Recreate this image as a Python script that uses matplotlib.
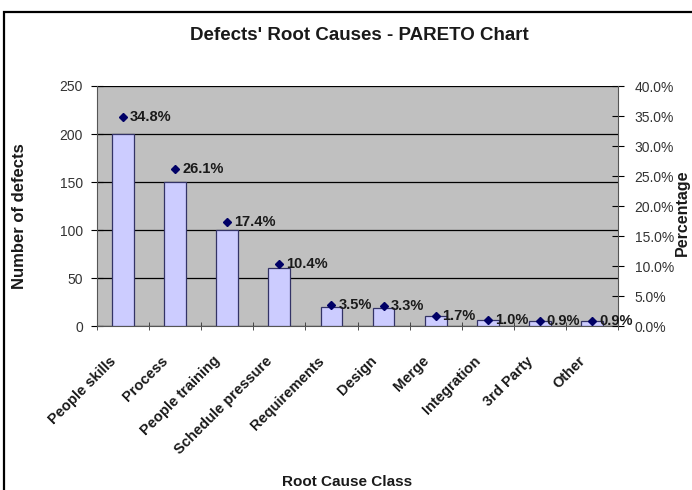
import matplotlib
matplotlib.use("Agg")
import matplotlib.pyplot as plt
import matplotlib.transforms as mtransforms
from matplotlib.patches import Rectangle
from matplotlib.ticker import FixedLocator, FuncFormatter

plt.rcParams['font.family'] = ['Liberation Sans', 'DejaVu Sans']

categories = ["People skills", "Process", "People training", "Schedule pressure",
              "Requirements", "Design", "Merge", "Integration", "3rd Party", "Other"]
defects = [200, 150, 100, 60, 20, 19, 10, 6, 5, 5]
percent = [34.8, 26.1, 17.4, 10.4, 3.5, 3.3, 1.7, 1.0, 0.9, 0.9]
pct_labels = ["34.8%", "26.1%", "17.4%", "10.4%", "3.5%", "3.3%", "1.7%", "1.0%", "0.9%", "0.9%"]

fig = plt.figure(figsize=(6.92, 4.90), dpi=100)
fig.patch.set_facecolor("white")
fig.add_artist(Rectangle((4/692, -0.01), 1.0, 1 - 12/490 + 0.01, transform=fig.transFigure,
                         fill=False, edgecolor="black", linewidth=1.6))

ax = fig.add_axes([97/692, 1 - 326/490, 521/692, 240/490])
ax.set_facecolor("#c0c0c0")
x = list(range(len(categories)))
ax.bar(x, defects, width=0.42, color="#ccccff", edgecolor="#333366", linewidth=0.9, zorder=3)
ax.set_xlim(-0.5, len(categories) - 0.5)
ax.set_ylim(0, 250)
ax.set_yticks([0, 50, 100, 150, 200, 250])
ax.yaxis.grid(True, color="black", linewidth=0.9, zorder=1)
ax.set_axisbelow(True)
ax.set_xticks(x)
ax.set_xticklabels(categories, rotation=45, ha="right", va="top", rotation_mode="anchor",
                   fontsize=10.5, fontweight="bold", color="#1a1a1a")
ax.tick_params(axis="x", which="major", length=0, pad=20)
shift = mtransforms.ScaledTranslation(-14/100, 0, fig.dpi_scale_trans)
for lbl in ax.get_xticklabels():
    lbl.set_transform(lbl.get_transform() + shift)
ax.xaxis.set_minor_locator(FixedLocator([i + 0.5 for i in range(-1, len(categories))]))
ax.tick_params(axis="x", which="minor", length=6, direction="inout", color="#333333")
ax.tick_params(axis="y", length=8, direction="inout", labelsize=10, labelcolor="#333333", pad=6)
for s in ["top", "right"]:
    ax.spines[s].set_visible(False)
ax.spines["left"].set_color("#555555")
ax.spines["bottom"].set_color("#555555")
ax.set_ylabel("Number of defects", fontsize=12, fontweight="bold", color="#1a1a1a")
ax.yaxis.set_label_coords((27 - 97) / 521, (326 - 216) / 240)
ax.set_xlabel("Root Cause Class", fontsize=11, fontweight="bold", color="#1a1a1a")
ax.xaxis.set_label_coords((347 - 97) / 521, (326 - 482) / 240)
ax.xaxis.label.set_va("center")

ax2 = ax.twinx()
ax2.set_ylim(0, 40)
ax2.set_yticks([0, 5, 10, 15, 20, 25, 30, 35, 40])
ax2.yaxis.set_major_formatter(FuncFormatter(lambda v, p: f"{v:.1f}%"))
ax2.tick_params(axis="y", length=8, direction="inout", labelsize=10, labelcolor="#333333", pad=8)
for s in ["top", "left", "bottom"]:
    ax2.spines[s].set_visible(False)
ax2.spines["right"].set_color("#555555")
ax2.plot(x, percent, linestyle="none", marker="D", markersize=4, color="#000066", zorder=5)
for xi, p, lab in zip(x, percent, pct_labels):
    ax2.annotate(lab, (xi, p), xytext=(5, 0), textcoords="offset points",
                 ha="left", va="center", fontsize=10.5, fontweight="bold", color="#1a1a1a")
ax2.set_ylabel("Percentage", fontsize=11.5, fontweight="bold", rotation=90, color="#1a1a1a")
ax2.yaxis.set_label_coords((682 - 97) / 521, (326 - 213) / 240)
ax2.yaxis.label.set_va("center")

fig.text(359/692, 1 - 36/490, "Defects' Root Causes - PARETO Chart", ha="center", va="center",
         fontsize=13.5, fontweight="bold", color="#1a1a1a")

fig.savefig("out.png", dpi=100)
